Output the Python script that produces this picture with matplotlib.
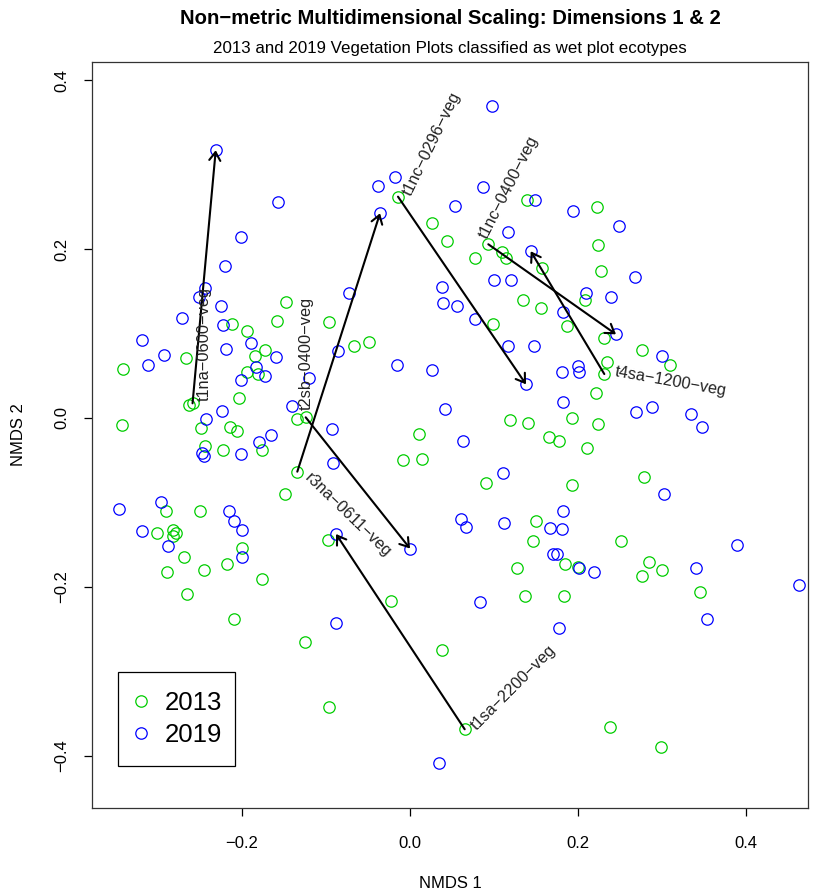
import matplotlib
matplotlib.use("Agg")
import matplotlib.pyplot as plt
from matplotlib.patches import Rectangle

plt.rcParams["font.family"] = ["Liberation Sans", "DejaVu Sans"]

# NMDS site scores, 2013 survey
nmds1_2013 = [
    -0.1476, -0.2115, -0.1580, -0.0964, -0.1944, -0.1730, -0.1842, -0.2661, -0.3417, -0.1937,
    -0.1806, -0.2036, -0.2637, -0.2589, -0.1342, -0.1242, -0.3423, -0.2485, -0.2139, -0.2060,
    -0.1762, -0.2437, -0.2226, -0.1342, -0.1492, -0.2901, -0.2500, -0.3015, -0.2825, -0.2789,
    -0.2818, -0.1996, -0.2694, -0.2896, -0.2449, -0.2182, -0.1765, -0.2655, -0.2092, -0.0982,
    -0.1246, -0.0968, -0.0226, 0.0377, 0.0651, -0.0663, -0.0488, 0.0107, -0.0080, 0.0146,
    0.0905, -0.0143, 0.0262, 0.0444, 0.0932, 0.1099, 0.1139, 0.0770, 0.1389, 0.1575,
    0.1349, 0.1565, 0.0985, 0.1873, 0.2087, 0.2230, 0.2242, 0.2270, 0.2313, 0.2349,
    0.2313, 0.2765, 0.3095, 0.2214, 0.2235, 0.2111, 0.1923, 0.1190, 0.1408, 0.1658,
    0.1770, 0.1931, 0.2782, 0.1496, 0.1468, 0.1277, 0.1373, 0.1849, 0.1833, 0.2004,
    0.2512, 0.2845, 0.2758, 0.3004, 0.3449, 0.2381, 0.2992,
]
nmds2_2013 = [
    0.1380, 0.1118, 0.1150, 0.1141, 0.1028, 0.0802, 0.0735, 0.0711, 0.0575, 0.0545,
    0.0521, 0.0241, 0.0154, 0.0174, -0.0012, 0.0008, -0.0083, -0.0124, -0.0103, -0.0154,
    -0.0383, -0.0328, -0.0379, -0.0636, -0.0897, -0.1099, -0.1099, -0.1359, -0.1327, -0.1359,
    -0.1399, -0.1544, -0.1644, -0.1825, -0.1805, -0.1734, -0.1912, -0.2086, -0.2382, -0.1440,
    -0.2658, -0.3429, -0.2169, -0.2750, -0.3689, 0.0850, 0.0901, -0.0190, -0.0501, -0.0482,
    -0.0767, 0.2623, 0.2315, 0.2094, 0.2059, 0.1971, 0.1900, 0.1900, 0.2580, 0.1774,
    0.1399, 0.1298, 0.1118, 0.1094, 0.1393, 0.2501, 0.2054, 0.1742, 0.0952, 0.0664,
    0.0521, 0.0802, 0.0625, 0.0293, -0.0071, -0.0359, -0.0004, -0.0024, -0.0056, -0.0222,
    -0.0276, -0.0794, -0.0696, -0.1217, -0.1452, -0.1774, -0.2106, -0.1734, -0.2110, -0.1762,
    -0.1452, -0.1710, -0.1873, -0.1805, -0.2066, -0.3659, -0.3896,
]

# NMDS site scores, 2019 resurvey
nmds1_2019 = [
    -0.2313, -0.1575, -0.2012, -0.2202, -0.2444, -0.2515, -0.2256, -0.2720, -0.2223, -0.1889,
    -0.3185, -0.2190, -0.2923, -0.1599, -0.3125, -0.1833, -0.1730, -0.2012, -0.1202, -0.0863,
    -0.2242, -0.1405, -0.2429, -0.1658, -0.1794, -0.2476, -0.2452, -0.2008, -0.0926, -0.0917,
    -0.3468, -0.2961, -0.2155, -0.2099, -0.1996, -0.3187, -0.2885, -0.1996, -0.0881, -0.0883,
    -0.0357, -0.0726, -0.0175, -0.0385, 0.0973, 0.0873, 0.0532, 0.1488, 0.1935, 0.1167,
    0.1437, 0.0377, 0.1004, 0.1206, 0.0389, 0.0560, 0.1825, 0.0770, 0.1170, 0.1480,
    -0.0151, 0.0262, 0.1381, 0.1810, 0.2004, 0.2012, 0.0417, 0.1818, 0.0635, 0.1104,
    0.1825, 0.0607, 0.0667, 0.1119, 0.1667, 0.1806, 0.0000, 0.1699, 0.1746, 0.2006,
    0.2190, 0.0837, 0.1777, 0.0342, 0.2492, 0.2679, 0.2095, 0.2393, 0.2452, 0.3000,
    0.2687, 0.2881, 0.3342, 0.3476, 0.3020, 0.3896, 0.3408, 0.3539, 0.4635,
]
nmds2_2019 = [
    0.3173, 0.2564, 0.2149, 0.1801, 0.1537, 0.1431, 0.1327, 0.1183, 0.1099, 0.0885,
    0.0921, 0.0818, 0.0750, 0.0727, 0.0625, 0.0601, 0.0501, 0.0454, 0.0478, 0.0794,
    0.0087, 0.0142, -0.0015, -0.0205, -0.0284, -0.0411, -0.0447, -0.0427, -0.0136, -0.0537,
    -0.1082, -0.0996, -0.1106, -0.1217, -0.1331, -0.1336, -0.1519, -0.1651, -0.1375, -0.2424,
    0.2426, 0.1485, 0.2860, 0.2750, 0.3701, 0.2738, 0.2509, 0.2580, 0.2453, 0.2201,
    0.1976, 0.1556, 0.1632, 0.1632, 0.1357, 0.1327, 0.1256, 0.1170, 0.0850, 0.0850,
    0.0632, 0.0569, 0.0399, 0.0545, 0.0620, 0.0549, 0.0103, 0.0193, -0.0273, -0.0652,
    -0.1099, -0.1201, -0.1295, -0.1248, -0.1300, -0.1316, -0.1547, -0.1612, -0.1612, -0.1781,
    -0.1829, -0.2177, -0.2485, -0.4085, 0.2279, 0.1671, 0.1485, 0.1434, 0.0992, 0.0731,
    0.0068, 0.0134, 0.0044, -0.0103, -0.0901, -0.1509, -0.1778, -0.2386, -0.1979,
]

# plots followed between surveys: label, index in 2013 scores, index in 2019 scores
tracked_plots = ["t1na-0600-veg", "t2sb-0400-veg", "r3na-0611-veg", "t1nc-0296-veg",
                 "t1nc-0400-veg", "t4sa-1200-veg", "t1sa-2200-veg"]
idx_2013 = [13, 15, 23, 51, 54, 70, 44]
idx_2019 = [0, 76, 40, 62, 88, 50, 38]

# label placement: rotation (deg) and offset (points) from the 2013 point
label_rot = [90, 90, -44, 64, 63, -10, 45]
label_off = [(8.6, 1.5), (0.3, 5.0), (7.0, -3.0), (6.5, 1.5), (-4.0, 5.0), (8.0, 1.5), (6.5, 1.0)]

fig = plt.figure(figsize=(8.24, 8.96), dpi=100)
ax = fig.add_axes([92 / 824, 88 / 896, 716 / 824, 746 / 896])

green = "#00CD00"
blue = "#0000FF"
ax.plot(nmds1_2013, nmds2_2013, "o", ms=8.2, mfc="none", mec=green, mew=0.9, label="2013")
ax.plot(nmds1_2019, nmds2_2019, "o", ms=8.2, mfc="none", mec=blue, mew=0.9, label="2019")

for name, i0, i1, rot, off in zip(tracked_plots, idx_2013, idx_2019, label_rot, label_off):
    start = (nmds1_2013[i0], nmds2_2013[i0])
    end = (nmds1_2019[i1], nmds2_2019[i1])
    ax.annotate("", xy=end, xytext=start,
                arrowprops=dict(arrowstyle="->,head_length=0.6,head_width=0.4",
                                mutation_scale=10, lw=1.5, color="black",
                                shrinkA=0, shrinkB=0))
    ax.annotate(name.replace("-", "\u2212"), xy=start, xytext=off, textcoords="offset points",
                rotation=rot, rotation_mode="anchor", ha="left", va="center",
                fontsize=11.8, color="#222222")

ax.set_xlim(-0.3786, 0.4738)
ax.set_ylim(-0.4622, 0.4219)
ax.set_xticks([-0.2, 0.0, 0.2, 0.4])
ax.set_xticklabels(["\u22120.2", "0.0", "0.2", "0.4"])
ax.set_yticks([-0.4, -0.2, 0.0, 0.2, 0.4])
ax.set_yticklabels(["\u22120.4", "\u22120.2", "0.0", "0.2", "0.4"], rotation=90, va="center")
ax.tick_params(direction="out", length=5.5, width=0.9, labelsize=12)
ax.tick_params(axis="x", pad=15)
ax.tick_params(axis="y", pad=11)
for s in ax.spines.values():
    s.set_linewidth(0.9)
    s.set_color("#333333")

ax.set_xlabel("NMDS 1", fontsize=12, labelpad=18)
ax.set_ylabel("NMDS 2", fontsize=12, labelpad=20)

fig.text(450 / 824, 1 - 18 / 896, "Non\u2212metric Multidimensional Scaling: Dimensions 1 & 2",
         ha="center", va="center", fontsize=14.6, fontweight="bold")
fig.text(450 / 824, 1 - 48 / 896, "2013 and 2019 Vegetation Plots classified as wet plot ecotypes",
         ha="center", va="center", fontsize=12.2)

# legend box drawn separately so its size is independent of the font padding
box_x0, box_x1 = 0.0359, 0.1997
box_y0, box_y1 = 0.0563, 0.1827
ax.add_patch(Rectangle((box_x0, box_y0), box_x1 - box_x0, box_y1 - box_y0,
                       transform=ax.transAxes, fill=False, lw=0.9, ec="black", zorder=5))
ax.legend(loc="center", bbox_to_anchor=((box_x0 + box_x1) / 2, (box_y0 + box_y1) / 2),
          fontsize=18.5, frameon=False, handletextpad=0.53, handlelength=0.8,
          borderpad=0.0, labelspacing=0.31)

fig.savefig("out.png", dpi=100)
